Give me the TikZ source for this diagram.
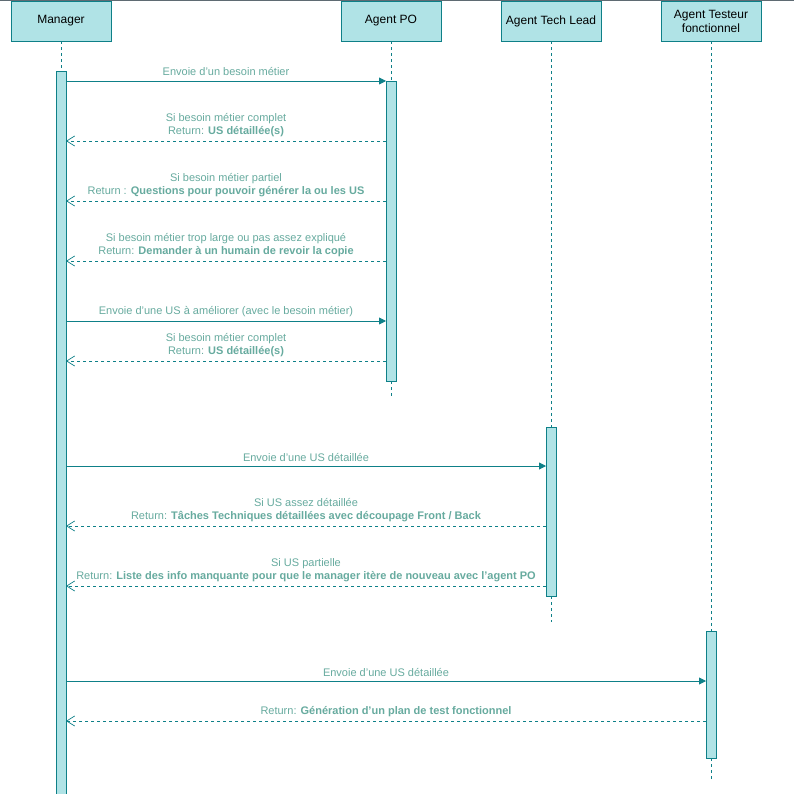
\documentclass[tikz,border=0pt]{standalone}
\usepackage{fontspec}
\setmainfont{Liberation Sans}[Ligatures=ResetAll]
\usetikzlibrary{arrows.meta}
\definecolor{actfill}{HTML}{B0E3E6}
\definecolor{actline}{HTML}{0E8088}
\definecolor{lblcol}{HTML}{67AB9F}
\definecolor{topbar}{HTML}{5F6B73}
\begin{document}
\begin{tikzpicture}[x=1pt,y=-1pt,
  head/.style={draw=actline, fill=actfill, line width=0.9pt, minimum width=100pt, minimum height=40pt, inner sep=0pt, align=center, font=\fontsize{12}{14}\selectfont},
  act/.style={draw=actline, fill=actfill, line width=0.9pt, minimum width=10pt, inner sep=0pt, outer sep=0pt},
  life/.style={draw=actline, line width=0.9pt, dash pattern=on 3pt off 3pt},
  msg/.style={draw=actline, line width=0.9pt, -{Triangle[length=7pt,width=7pt]}},
  ret/.style={draw=actline, line width=0.9pt, dash pattern=on 3pt off 3pt, -{Straight Barb[length=8pt,width=10pt,line width=0.7pt]}},
  lbl/.style={text=lblcol, font=\fontsize{11}{13}\selectfont, align=center, inner sep=0pt},
  one/.style={lbl, yshift=9pt},
  two/.style={lbl, yshift=16pt}
]
\useasboundingbox (0,0) rectangle (794,794);
\fill[white] (0,0) rectangle (794,794);
\draw[topbar, line width=1.4pt] (0,0.7) -- (794,0.7);

% headers
\node[head] (hM) at (61,21) {Manager};
\node[head] (hP) at (391,21) {Agent PO};
\node[head] (hT) at (551,21) {Agent Tech Lead};
\node[head] (hF) at (711,21) {Agent Testeur\\fonctionnel};

% activation bars
\node[act, minimum height=724pt] (aM) at (61,433) {};
\node[act, minimum height=300pt] (aP) at (391,231) {};
\node[act, minimum height=169pt] (aT) at (551,511.5) {};
\node[act, minimum height=127pt] (aF) at (711,694.5) {};

% lifelines
\coordinate (eP) at (391,398);
\coordinate (eT) at (551,622);
\coordinate (eF) at (711,782);
\draw[life] (hM.south) -- (aM.north);
\draw[life] (hP.south) -- (aP.north);
\draw[life] (aP.south) -- (eP);
\draw[life] (hT.south) -- (aT.north);
\draw[life] (aT.south) -- (eT);
\draw[life] (hF.south) -- (aF.north);
\draw[life] (aF.south) -- (eF);

% messages with Agent PO
\draw[msg] (aM.east |- 0,81) -- node[one] {Envoie d'un besoin métier} (aP.west |- 0,81);
\draw[ret] (aP.west |- 0,141) -- node[two] {Si besoin métier complet\\Return: \textbf{US détaillée(s)}} (aM.east |- 0,141);
\draw[ret] (aP.west |- 0,201) -- node[two] {Si besoin métier partiel\\Return : \textbf{Questions pour pouvoir générer la ou les US}} (aM.east |- 0,201);
\draw[ret] (aP.west |- 0,261) -- node[two] {Si besoin métier trop large ou pas assez expliqué\\Return: \textbf{Demander à un humain de revoir la copie}} (aM.east |- 0,261);
\draw[msg] (aM.east |- 0,321) -- node[one] {Envoie d'une US à améliorer (avec le besoin métier)} (aP.west |- 0,321);
\draw[ret] (aP.west |- 0,361) -- node[two] {Si besoin métier complet\\Return: \textbf{US détaillée(s)}} (aM.east |- 0,361);

% messages with Agent Tech Lead
\draw[msg] (aM.east |- 0,466) -- node[one] {Envoie d'une US détaillée} (aT.west |- 0,466);
\draw[ret] (aT.west |- 0,526) -- node[two] {Si US assez détaillée\\Return: \textbf{Tâches Techniques détaillées avec découpage Front / Back}} (aM.east |- 0,526);
\draw[ret] (aT.west |- 0,586) -- node[two] {Si US partielle\\Return: \textbf{Liste des info manquante pour que le manager itère de nouveau avec l'agent PO}} (aM.east |- 0,586);

% messages with Agent Testeur
\draw[msg] (aM.east |- 0,681) -- node[one] {Envoie d'une US détaillée} (aF.west |- 0,681);
\draw[ret] (aF.west |- 0,721) -- node[one] {Return: \textbf{Génération d'un plan de test fonctionnel}} (aM.east |- 0,721);
\end{tikzpicture}
\end{document}
